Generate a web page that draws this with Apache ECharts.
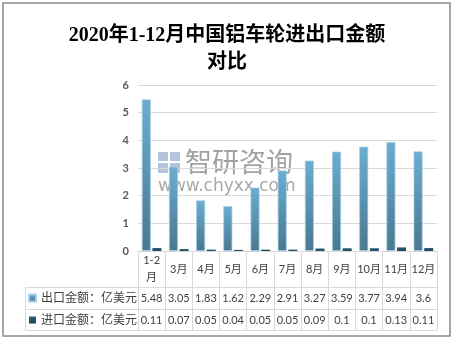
<!DOCTYPE html>
<html>
<head>
<meta charset="utf-8">
<script src="https://cdn.jsdelivr.net/npm/echarts@6/dist/echarts.min.js"></script>
<style>
  html, body { margin: 0; padding: 0; background: #fff; }
  #chart { width: 454px; height: 341px; }
</style>
</head>
<body>
<div id="chart"></div>
<script>
// Months (Jan and Feb are reported together)
const months = ['1-2月', '3月', '4月', '5月', '6月', '7月', '8月', '9月', '10月', '11月', '12月'];
// Export value, 100 million USD
const exportValues = [5.48, 3.05, 1.83, 1.62, 2.29, 2.91, 3.27, 3.59, 3.77, 3.94, 3.6];
// Import value, 100 million USD
const importValues = [0.11, 0.07, 0.05, 0.04, 0.05, 0.05, 0.09, 0.1, 0.1, 0.13, 0.11];
const seriesNames = ['出口金额：亿美元', '进口金额：亿美元'];
const yTicks = [0, 1, 2, 3, 4, 5, 6];

const tableFont = 'Lato, "Noto Sans CJK SC", sans-serif';
const lineColor = '#d9d9d9';
const textColor = '#404040';

const chart = echarts.init(document.getElementById('chart'), null, { renderer: 'canvas' });

const exportColor = new echarts.graphic.LinearGradient(0, 0, 0, 1, [
  { offset: 0, color: '#6badd1' },
  { offset: 1, color: '#4a7890' }
]);
const importColor = new echarts.graphic.LinearGradient(0, 0, 0, 1, [
  { offset: 0, color: '#2e5f7b' },
  { offset: 1, color: '#1f4458' }
]);

// Row axes that print the value rows of the data table under the plot
function valueRowAxis(offset, values) {
  return {
    type: 'category',
    data: months,
    position: 'bottom',
    offset: offset,
    axisLine: { show: false },
    axisTick: { show: false },
    axisLabel: {
      interval: 0,
      margin: 11,
      verticalAlign: 'middle',
      color: textColor,
      fontSize: 11,
      fontFamily: tableFont,
      formatter: (v, i) => String(values[i])
    }
  };
}

const option = {
  backgroundColor: '#fff',
  animation: false,
  title: {
    text: '2020年1-12月中国铝车轮进出口金额\n对比',
    left: 'center',
    top: 17,
    textStyle: {
      fontSize: 20,
      fontWeight: 'bold',
      lineHeight: 27,
      color: '#000',
      fontFamily: '"Liberation Serif", "Noto Sans CJK SC", serif'
    }
  },
  legend: {
    orient: 'vertical',
    left: 28,
    top: 291,
    padding: 0,
    itemWidth: 7,
    itemHeight: 7,
    itemGap: 8,
    icon: 'rect',
    selectedMode: false,
    data: seriesNames,
    textStyle: {
      fontSize: 12,
      lineHeight: 14,
      color: textColor,
      fontFamily: tableFont
    }
  },
  grid: { left: 138, right: 17, top: 85, bottom: 90, containLabel: false },
  xAxis: [
    {
      type: 'category',
      data: months,
      position: 'bottom',
      axisLine: { show: true, lineStyle: { color: lineColor, width: 1 } },
      axisTick: { show: true, interval: 0, length: 79, lineStyle: { color: lineColor, width: 1 } },
      axisLabel: {
        interval: 0,
        margin: 18,
        verticalAlign: 'middle',
        color: textColor,
        fontSize: 11,
        lineHeight: 17,
        fontFamily: tableFont,
        width: 25,
        overflow: 'break'
      }
    },
    valueRowAxis(36, exportValues),
    valueRowAxis(58, importValues)
  ],
  yAxis: {
    type: 'value',
    min: yTicks[0],
    max: yTicks[yTicks.length - 1],
    interval: 1,
    axisLine: { show: false },
    axisTick: { show: false },
    axisLabel: { margin: 9, color: '#595959', fontSize: 11, fontWeight: 'bold', fontFamily: 'Lato, sans-serif' },
    splitLine: { lineStyle: { color: lineColor, width: 1 } }
  },
  series: [
    {
      name: seriesNames[0],
      type: 'bar',
      data: exportValues,
      barWidth: 9,
      barGap: '18%',
      itemStyle: { color: exportColor, borderColor: 'rgba(160,205,228,0.9)', borderWidth: 0.8 }
    },
    {
      name: seriesNames[1],
      type: 'bar',
      data: importValues,
      barWidth: 9,
      itemStyle: { color: importColor }
    }
  ],
  graphic: [
    // outer frame
    { type: 'rect', shape: { x: 3, y: 3, width: 447, height: 333 }, style: { fill: 'none', stroke: '#8a8a8a', lineWidth: 1.5 }, silent: true },
    // data table grid lines
    { type: 'line', shape: { x1: 25, y1: 287.5, x2: 437, y2: 287.5 }, style: { stroke: lineColor, lineWidth: 1 } },
    { type: 'line', shape: { x1: 25, y1: 309.5, x2: 437, y2: 309.5 }, style: { stroke: lineColor, lineWidth: 1 } },
    { type: 'line', shape: { x1: 25, y1: 330.5, x2: 437, y2: 330.5 }, style: { stroke: lineColor, lineWidth: 1 } },
    { type: 'line', shape: { x1: 25.5, y1: 287, x2: 25.5, y2: 331 }, style: { stroke: lineColor, lineWidth: 1 } },
    // watermark
    {
      type: 'group', left: 158, top: 148, z: 100, silent: true,
      children: [
        { type: 'rect', shape: { x: 0, y: 1, width: 10, height: 9 }, style: { fill: 'rgba(120,145,190,0.55)' } },
        { type: 'rect', shape: { x: 12, y: 1, width: 10, height: 9 }, style: { fill: 'rgba(120,145,190,0.55)' } },
        { type: 'rect', shape: { x: 0, y: 12, width: 10, height: 10 }, style: { fill: 'rgba(120,145,190,0.55)' } },
        { type: 'rect', shape: { x: 12, y: 12, width: 10, height: 10 }, style: { fill: 'rgba(120,145,190,0.55)' } },
        { type: 'text', style: { x: 27, y: -3, text: '智研咨询', fontSize: 27, fill: 'rgba(110,110,110,0.65)', fontFamily: '"Noto Sans CJK SC", sans-serif' } },
        { type: 'text', style: { x: 0, y: 27, text: 'www.chyxx.com', fontSize: 17, fill: 'rgba(110,110,110,0.6)', fontFamily: '"DejaVu Sans", sans-serif' } }
      ]
    }
  ]
};

chart.setOption(option);
</script>
</body>
</html>
